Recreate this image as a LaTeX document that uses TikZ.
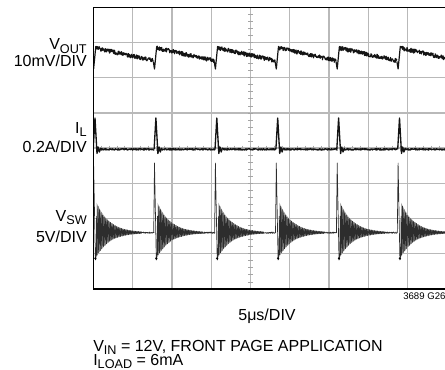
\documentclass[tikz,border=0pt]{standalone}
\usepackage{fontspec}
\setmainfont{Liberation Sans}
\newcommand{\lowtxt}[1]{\raisebox{-2.4pt}{\fontsize{9.5}{10}\selectfont #1}}

\begin{document}
\begin{tikzpicture}[x=0.75pt,y=0.75pt,yscale=-1,xscale=1,
  gridline/.style={draw={rgb, 255:red, 185; green, 185; blue, 185}, line width=1pt},
  tickline/.style={draw={rgb, 255:red, 165; green, 165; blue, 165}, line width=0.5pt},
  frameline/.style={draw=black, line width=1.1pt},
  vouttrace/.style={draw={rgb, 255:red, 20; green, 20; blue, 20}, line width=0.9pt, line join=round},
  iltrace/.style={draw={rgb, 255:red, 20; green, 20; blue, 20}, line width=1pt, line join=round},
  swtrace/.style={draw={rgb, 255:red, 45; green, 45; blue, 45}, line width=0.5pt, line join=round},
  lbl/.style={font=\fontsize{12}{14}\selectfont, inner sep=0pt},
  tinylbl/.style={font=\fontsize{7.2}{8}\selectfont, inner sep=0pt}]
\useasboundingbox (0,0) rectangle (445,370);
\pgfmathsetseed{3689}

%Grid: vertical divisions
\foreach \k in {1,...,8} \draw[gridline] ({93.3+39.3*\k},7.3) -- ({93.3+39.3*\k},289);
%Grid: horizontal divisions
\foreach \k in {1,...,7} \draw[gridline] (93.3,{7.3+35.2*\k}) -- (445,{7.3+35.2*\k});
%Minor ticks on the centre lines
\foreach \j in {1,...,39} \draw[tickline] (248,{7.3+7.04*\j}) -- (253,{7.3+7.04*\j});
\foreach \j in {1,...,44} \draw[tickline] ({93.3+7.86*\j},145.6) -- ({93.3+7.86*\j},150.6);

\begin{scope}
\clip (93.3,7.3) rectangle (445,289);
\foreach \n in {0,...,5}{
  \pgfmathsetmacro\t{93.6+60.9*\n}
  %Trace: output ripple
  \draw[vouttrace] ({\t-1.2},61.5) -- ({\t},69) -- ({\t+2.2},46.5) -- plot[domain=2.8:59.7,samples=170] ({\t+\x},{47.5+13.5*(\x/60.9)+2.1*rand});
  %Trace: inductor current
  \draw[iltrace] ({\t-0.4},149.3) -- ({\t+1.4},118) -- ({\t+3.4},153.5) -- ({\t+4.6},147) -- ({\t+5.8},152) -- ({\t+7},148.3) -- plot[domain=8:60.5,samples=110] ({\t+\x},{149.3+0.8*rand});
  %Trace: switch node
  \fill[black!35] ({\t+3},{232.7-30}) -- plot[domain=3:48,samples=30] ({\t+\x},{232.7-3*exp(-(\x-3)/13)-27*exp(-(\x-3)/13)}) -- plot[domain=48:3,samples=30] ({\t+\x},{232.7-3*exp(-(\x-3)/13)+27*exp(-(\x-3)/13)}) -- cycle;
  \draw[swtrace] ({\t-0.8},232.7) -- ({\t},163) -- ({\t+1.8},260) -- ({\t+2.6},256) -- plot[domain=3:48,samples=200] ({\t+\x},{232.7-3*exp(-(\x-3)/13)+27*exp(-(\x-3)/13)*sin(230*\x)}) -- plot[domain=48:60.5,samples=40] ({\t+\x},{232.7+0.7*rand});
  \draw[line width=1.5pt] ({\t+1.2},259) -- ({\t+2.4},258);
}
\end{scope}

%Frame of the screen
\draw[frameline] (445,7.3) -- (93.3,7.3) -- (93.3,289) -- (445,289);

%Channel labels
\node[lbl, anchor=base east] (voutname) at (87,50) {V\lowtxt{OUT}};
\node[lbl, anchor=base east] (voutscale) at (87,67) {10mV/DIV};
\node[lbl, anchor=base east] (ilname) at (87,133.5) {I\lowtxt{L}};
\node[lbl, anchor=base east] (ilscale) at (87,152.5) {0.2A/DIV};
\node[lbl, anchor=base east] (swname) at (87,221.5) {V\lowtxt{SW}};
\node[lbl, anchor=base east] (swscale) at (87,242.5) {5V/DIV};

%Time base and conditions
\node[lbl, anchor=base] (timescale) at (267,320) {5μs/DIV};
\node[lbl, anchor=base west] (inputcond) at (93,351) {V\lowtxt{IN} = 12V, FRONT PAGE APPLICATION};
\node[lbl, anchor=base west] (loadcond) at (93,365) {I\lowtxt{LOAD} = 6mA};
\node[tinylbl, anchor=base west] (figid) at (403,299) {3689 G26};

\end{tikzpicture}
\end{document}
